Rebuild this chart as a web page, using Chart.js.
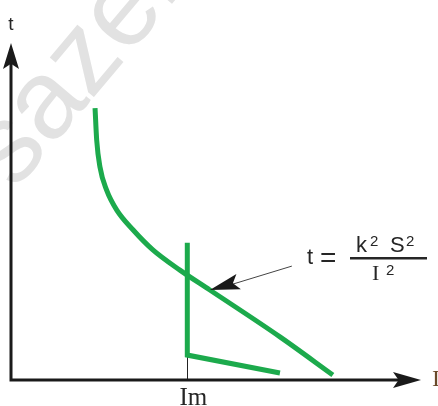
<!DOCTYPE html>
<html>
<head>
<meta charset="utf-8">
<script src="https://cdn.jsdelivr.net/npm/chart.js@4.4.1/dist/chart.umd.min.js"></script>
<style>
  html, body { margin: 0; padding: 0; background: #fff; }
  #wrap { width: 438px; height: 406px; }
</style>
</head>
<body>
<div id="wrap"><canvas id="grafico"></canvas></div>
<script>
// curva de fusión t = k²S²/I² (unidades relativas)
const curvaI = [20.5, 20.9, 21.7, 23.3, 25.8, 29.8, 34.6, 41.2, 48.5, 65.6, 78.5];
const curvaT = [80.7, 71.2, 63.2, 56.4, 50.4, 44.5, 38.6, 32.6, 26.7, 12.8, 1.5];

// disparo magnético en Im
const Im = 43;
const disparoI = [43, 43, 65.6];
const disparoT = [40.7, 7.4, 2.1];

// flecha de la fórmula: punta sobre la curva, cola junto al texto
const flechaI = [48.5, 68.5];
const flechaT = [26.7, 33.8];

const VERDE = '#1caa4c';
const TINTA = '#262626';
const SANS = '"Liberation Sans", Arial, sans-serif';
const SERIF = '"Liberation Serif", "Times New Roman", serif';

function puntos(xs, ys) {
    return xs.map((x, i) => ({ x: x, y: ys[i] }));
}

function punta(ctx, x1, y1, x2, y2, largo, ancho) {
    // punta de flecha rellena en (x2, y2)
    const a = Math.atan2(y2 - y1, x2 - x1);
    ctx.save();
    ctx.translate(x2, y2);
    ctx.rotate(a);
    ctx.beginPath();
    ctx.moveTo(0, 0);
    ctx.lineTo(-largo, -ancho);
    ctx.lineTo(-largo * 0.8, 0);
    ctx.lineTo(-largo, ancho);
    ctx.closePath();
    ctx.fill();
    ctx.restore();
}

function texto(ctx, t, x, y, fuente) {
    ctx.font = fuente;
    ctx.fillText(t, x, y);
}

// marca de agua de fondo
const marcaAgua = {
    id: 'marcaAgua',
    beforeDraw(chart) {
        const ctx = chart.ctx;
        ctx.save();
        ctx.translate(15, 191);
        ctx.rotate(-50 * Math.PI / 180);
        ctx.font = '112px ' + SANS;
        ctx.fillStyle = '#e2e2e2';
        ctx.textBaseline = 'alphabetic';
        ctx.fillText('sazeh', 0, 0);
        ctx.restore();
    }
};

// ejes con flechas, línea de Im, fórmula y rótulos
const dibujo = {
    id: 'dibujo',
    beforeDatasetsDraw(chart) {
        const ctx = chart.ctx;
        const sx = chart.scales.x, sy = chart.scales.y;
        const y0 = sy.getPixelForValue(0);
        const xIm = Math.round(sx.getPixelForValue(Im)) + 0.5;

        // línea fina de Im
        ctx.save();
        ctx.strokeStyle = '#222';
        ctx.lineWidth = 1;
        ctx.beginPath();
        ctx.moveTo(xIm, sy.getPixelForValue(31));
        ctx.lineTo(xIm, y0);
        ctx.stroke();
        ctx.restore();
    },
    afterDatasetsDraw(chart) {
        const ctx = chart.ctx;
        const sx = chart.scales.x, sy = chart.scales.y;
        const x0 = sx.getPixelForValue(0), y0 = sy.getPixelForValue(0);
        const xMax = sx.getPixelForValue(sx.max), yMax = sy.getPixelForValue(sy.max);
        const xIm = sx.getPixelForValue(Im);

        ctx.save();
        ctx.strokeStyle = '#1a1a1a';
        ctx.fillStyle = '#1a1a1a';
        ctx.lineWidth = 3;
        ctx.beginPath();
        ctx.moveTo(x0, yMax + 12);
        ctx.lineTo(x0, y0);
        ctx.lineTo(xMax - 12, y0);
        ctx.stroke();
        punta(ctx, x0, y0, x0, yMax, 26, 8);
        punta(ctx, x0, y0, xMax, y0, 28, 8);

        // flecha hacia la curva
        const ax1 = sx.getPixelForValue(flechaI[1]), ay1 = sy.getPixelForValue(flechaT[1]);
        const ax2 = sx.getPixelForValue(flechaI[0]), ay2 = sy.getPixelForValue(flechaT[0]);
        ctx.strokeStyle = '#444';
        ctx.lineWidth = 1;
        ctx.beginPath();
        ctx.moveTo(ax1, ay1);
        ctx.lineTo(ax2 + 20, ay2 - 5);
        ctx.stroke();
        punta(ctx, ax1, ay1, ax2, ay2, 30, 8);

        // fórmula t = k² S² / I²
        ctx.fillStyle = TINTA;
        ctx.textBaseline = 'alphabetic';
        ctx.textAlign = 'left';
        texto(ctx, 't', 307, 264, '22px ' + SANS);
        texto(ctx, '=', 320, 267, '28px ' + SANS);
        texto(ctx, 'k', 356, 252, '22px ' + SANS);
        texto(ctx, '2', 370, 246, '15px ' + SANS);
        texto(ctx, 'S', 390, 252, '22px ' + SANS);
        texto(ctx, '2', 406, 246, '15px ' + SANS);
        ctx.fillRect(350, 257, 77, 2.5);
        texto(ctx, 'I', 372, 280, '22px ' + SERIF);
        texto(ctx, '2', 386, 275, '15px ' + SANS);

        // rótulos de ejes
        ctx.textAlign = 'center';
        texto(ctx, 't', x0, 30, '19px ' + SANS);
        texto(ctx, 'Im', xIm + 6, 405, '25px ' + SERIF);
        ctx.textAlign = 'left';
        ctx.fillStyle = '#6a4a2a';
        texto(ctx, 'I', 432, 386, '24px ' + SERIF);
        ctx.restore();
    }
};

new Chart(document.getElementById('grafico'), {
    type: 'scatter',
    data: {
        datasets: [
            {
                label: 't = k²S²/I²',
                data: puntos(curvaI, curvaT),
                showLine: true,
                borderColor: VERDE,
                borderWidth: 5,
                pointRadius: 0,
                cubicInterpolationMode: 'monotone',
                borderCapStyle: 'butt'
            },
            {
                label: 'Im',
                data: puntos(disparoI, disparoT),
                showLine: true,
                borderColor: VERDE,
                borderWidth: 5,
                pointRadius: 0,
                tension: 0,
                borderJoinStyle: 'miter'
            }
        ]
    },
    options: {
        responsive: true,
        maintainAspectRatio: false,
        animation: false,
        layout: { padding: { left: 11, top: 43, right: 17, bottom: 26 } },
        scales: {
            x: { type: 'linear', min: 0, max: 100, display: false },
            y: { type: 'linear', min: 0, max: 100, display: false }
        },
        plugins: {
            legend: { display: false },
            tooltip: { enabled: false }
        }
    },
    plugins: [marcaAgua, dibujo]
});
</script>
</body>
</html>
